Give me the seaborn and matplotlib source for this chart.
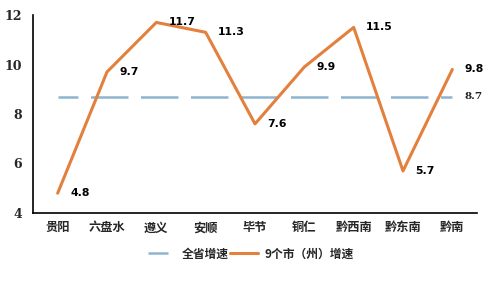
import matplotlib
matplotlib.use("Agg")
import matplotlib.pyplot as plt
import seaborn as sns
import pandas as pd

cities = ["贵阳", "六盘水", "遵义", "安顺", "毕节", "铜仁", "黔西南", "黔东南", "黔南"]
city_growth = [4.8, 9.7, 11.7, 11.3, 7.6, 9.9, 11.5, 5.7, 9.8]
province_growth = [8.7] * len(cities)
series_names = ["全省增速", "9个市（州）增速"]

sns.set_theme(style="white")
plt.rcParams['font.family'] = ['Noto Sans CJK SC', 'DejaVu Sans']

df = pd.DataFrame({"city": cities, "x": range(len(cities)),
                   "prov": province_growth, "cityg": city_growth})

fig = plt.figure(figsize=(5.01, 2.83), dpi=100)
ax = fig.add_axes([33/501, 1-213/283, (477-33)/501, (213-15)/283])

sns.lineplot(data=df, x="x", y="prov", ax=ax, color="#8DB4D0", linewidth=1.8,
             label=series_names[0])
ax.lines[-1].set_linestyle((7.0, (15.0, 5.0)))
sns.lineplot(data=df, x="x", y="cityg", ax=ax, color="#E3803D", linewidth=2.2,
             label=series_names[1])

for i, v in enumerate(city_growth):
    ax.annotate(f"{v}", (i, v), xytext=(9, 0), textcoords="offset points",
                va="center", ha="left", fontsize=7.8, fontweight="bold",
                family="DejaVu Sans", color="black")
ax.annotate(f"{province_growth[-1]}", (len(cities)-1, province_growth[-1]),
            xytext=(9, 0), textcoords="offset points", va="center", ha="left",
            fontsize=7.5, fontweight="bold", family="DejaVu Serif", color="#222222")

ax.set_xlim(-0.5, len(cities)-0.5)
ax.set_ylim(4, 12)
ax.set_yticks([4, 6, 8, 10, 12])
ax.set_xticks(range(len(cities)))
ax.set_xticklabels(cities, fontsize=8.8, fontweight="bold")
for t in ax.get_yticklabels():
    t.set_fontsize(9)
    t.set_fontweight("bold")
    t.set_family("DejaVu Serif")
ax.set_xlabel("")
ax.set_ylabel("")
ax.tick_params(axis="x", length=0, pad=6)
ax.tick_params(axis="y", length=0, pad=8)
for s in ["top", "right"]:
    ax.spines[s].set_visible(False)
for s in ["left", "bottom"]:
    ax.spines[s].set_color("black")
    ax.spines[s].set_linewidth(1.2)

ax.legend(loc="upper center", bbox_to_anchor=(0.49, -0.12), ncol=2, frameon=False,
          prop={"size": 8.5, "weight": "bold", "family": ["Noto Sans CJK SC", "DejaVu Sans"]},
          handlelength=2.4, columnspacing=0.1, handletextpad=0.5)

fig.savefig("out.png", dpi=100)
